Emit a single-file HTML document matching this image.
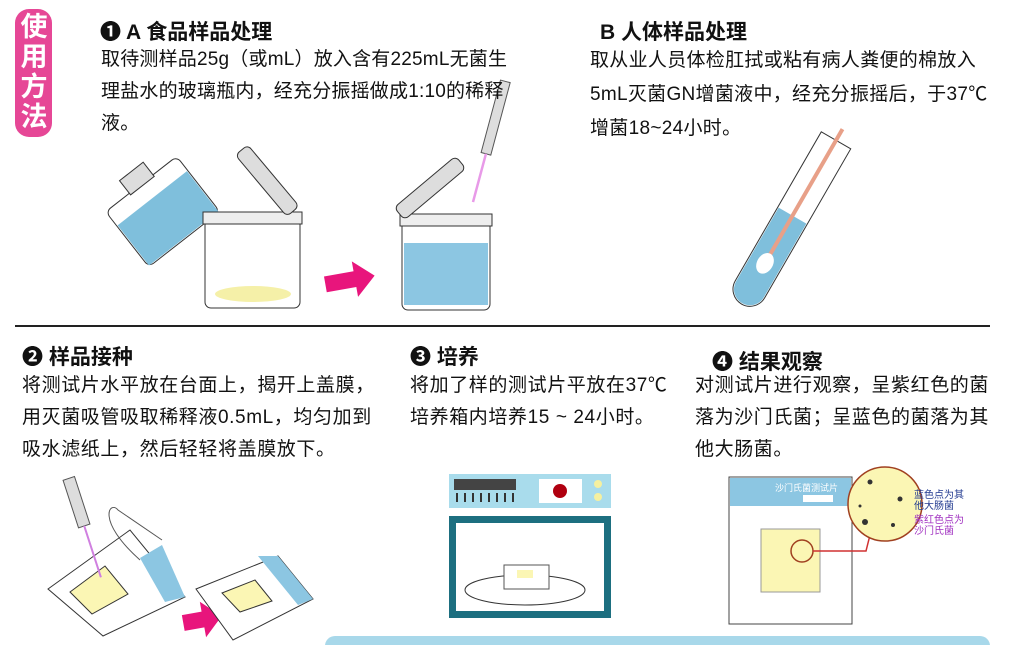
<!DOCTYPE html>
<html><head><meta charset="utf-8"><style>
body{margin:0;width:1020px;height:645px;overflow:hidden;background:#fff;position:relative;font-family:"Liberation Sans","Noto Sans CJK SC",sans-serif;color:#111}
.t{position:absolute;white-space:nowrap;font-size:19px;line-height:32px;letter-spacing:0.6px}
.h{position:absolute;white-space:nowrap;font-size:21px;font-weight:bold}
svg{position:absolute;left:0;top:0}
</style></head><body>
<svg width="1020" height="645" viewBox="0 0 1020 645">
<rect x="15" y="9" width="37" height="128" rx="14" fill="#e64796"/>
<line x1="15" y1="326" x2="990" y2="326" stroke="#222" stroke-width="2"/>
<rect x="325" y="636" width="665" height="20" rx="10" fill="#a8d8ea"/>
<g transform="rotate(-38 155 205)">
<rect x="112" y="180" width="90" height="70" rx="6" fill="#fff" stroke="#333"/>
<rect x="113" y="198" width="88" height="51" fill="#7fbfdc"/>
<rect x="142" y="164" width="30" height="18" fill="#ddd" stroke="#333"/>
</g>
<rect x="205" y="218" width="95" height="90" rx="6" fill="#fff" stroke="#333"/>
<rect x="203" y="212" width="99" height="12" fill="#eee" stroke="#333"/>
<ellipse cx="253" cy="294" rx="38" ry="8" fill="#f5f0a8"/>
<g transform="rotate(50 268 180)"><rect x="228" y="173" width="80" height="16" rx="5" fill="#ddd" stroke="#333"/></g>
<polygon points="325,272 355,272 355,262 375,280 355,298 355,288 325,288" fill="#e8157c" transform="rotate(-10 350 280)"/>
<polygon points="183,612 203,612 203,602 222,620 203,638 203,628 183,628" fill="#e8157c" transform="rotate(-10 200 620)"/>
<rect x="402" y="220" width="88" height="90" rx="6" fill="#fff" stroke="#333"/>
<rect x="400" y="214" width="92" height="12" fill="#eee" stroke="#333"/>
<rect x="404" y="243" width="84" height="62" fill="#8cc6e2"/>
<g transform="rotate(-40 430 188)"><rect x="390" y="180" width="80" height="16" rx="5" fill="#ddd" stroke="#333"/></g>
<g transform="rotate(15 495 120)"><rect x="490" y="80" width="10" height="75" fill="#ddd" stroke="#555"/><line x1="495" y1="155" x2="495" y2="205" stroke="#e89ae8" stroke-width="2.5"/></g>
<g transform="rotate(30 790 220)">
<path d="M773,128 L807,128 L807,300 A17,17 0 0 1 773,300 Z" fill="#fff" stroke="#333"/>
<path d="M774,215 L806,215 L806,300 A16,16 0 0 1 774,300 Z" fill="#7fbfdc"/>
<line x1="790" y1="115" x2="790" y2="265" stroke="#e8a088" stroke-width="4"/>
<ellipse cx="790" cy="270" rx="8" ry="11" fill="#fff"/>
</g>
<polygon points="48,589 130,530 185,597 103,636" fill="#fff" stroke="#333"/>
<polygon points="70,592 105,566 128,594 92,614" fill="#fbf6b4" stroke="#333"/>
<polygon points="140,558 162,545 185,597 165,602" fill="#8cc6e2"/>
<path d="M140,560 C95,520 110,500 118,510 L162,540" fill="none" stroke="#555"/>
<g transform="rotate(-18 80 500)"><rect x="70" y="476" width="12" height="50" fill="#ddd" stroke="#555"/><line x1="76" y1="526" x2="76" y2="580" stroke="#d080e0" stroke-width="2"/></g>
<polygon points="196,589 278,556 313,599 233,640" fill="#fff" stroke="#333"/>
<polygon points="222,593 255,580 272,601 240,612" fill="#fbf6b4" stroke="#333"/>
<polygon points="258,556 278,556 313,599 298,605" fill="#8cc6e2"/>
<rect x="449" y="474" width="162" height="34" fill="#a9dcec"/>
<rect x="454" y="479" width="62" height="11" fill="#444"/>
<g stroke="#333" stroke-width="2"><line x1="457" y1="493" x2="457" y2="502"/><line x1="465" y1="493" x2="465" y2="502"/><line x1="473" y1="493" x2="473" y2="502"/><line x1="481" y1="493" x2="481" y2="502"/><line x1="489" y1="493" x2="489" y2="502"/><line x1="497" y1="493" x2="497" y2="502"/><line x1="505" y1="493" x2="505" y2="502"/><line x1="513" y1="493" x2="513" y2="502"/></g>
<rect x="539" y="479" width="43" height="24" fill="#fff"/>
<circle cx="560" cy="491" r="7" fill="#b00010"/>
<circle cx="598" cy="484" r="4" fill="#f5f0a0"/><circle cx="598" cy="497" r="4" fill="#f5f0a0"/>
<rect x="449" y="516" width="162" height="102" fill="#1d6f80"/>
<rect x="456" y="523" width="148" height="88" fill="#fff"/>
<ellipse cx="525" cy="590" rx="60" ry="15" fill="#fff" stroke="#333"/>
<rect x="504" y="565" width="45" height="24" fill="#fff" stroke="#555"/>
<rect x="517" y="570" width="16" height="8" fill="#fbf6b4"/>
<rect x="729" y="477" width="123" height="147" fill="#fff" stroke="#444"/>
<rect x="730" y="478" width="121" height="28" fill="#8cc6e2"/>
<text x="775" y="491" font-size="9" fill="#fff">沙门氏菌测试片</text>
<rect x="803" y="495" width="30" height="7" fill="#fff"/>
<rect x="761" y="529" width="59" height="63" fill="#fbf6b4" stroke="#999"/>
<circle cx="802" cy="551" r="11" fill="none" stroke="#a04020" stroke-width="1.5"/>
<polyline points="813,551 866,551 870,535" fill="none" stroke="#d03030" stroke-width="1.5"/>
<circle cx="885" cy="504" r="37" fill="#fbf6b4" stroke="#a04020" stroke-width="1.5"/>
<circle cx="870" cy="482" r="2.5" fill="#333"/><circle cx="900" cy="499" r="2.5" fill="#333"/><circle cx="865" cy="522" r="3" fill="#333"/><circle cx="893" cy="525" r="2" fill="#333"/><circle cx="860" cy="506" r="1.5" fill="#333"/>
</svg>
<div style="position:absolute;left:18px;top:12px;width:32px;color:#fff;font-size:27px;font-weight:bold;line-height:30px;text-align:center">使<br>用<br>方<br>法</div>
<div class="h" style="left:100px;top:16px">❶ A 食品样品处理</div>
<div class="t" style="left:101px;top:44px;letter-spacing:0.2px">取待测样品25g（或mL）放入含有225mL无菌生<br>理盐水的玻璃瓶内，经充分振摇做成1:10的稀释<br>液。</div>
<div class="h" style="left:600px;top:16px">B 人体样品处理</div>
<div class="t" style="left:590px;top:44px;line-height:34px;letter-spacing:0.3px">取从业人员体检肛拭或粘有病人粪便的棉放入<br>5mL灭菌GN增菌液中，经充分振摇后，于37℃<br>增菌18~24小时。</div>
<div class="h" style="left:22px;top:341px">❷ 样品接种</div>
<div class="t" style="left:22px;top:370px">将测试片水平放在台面上，揭开上盖膜，<br>用灭菌吸管吸取稀释液0.5mL，均匀加到<br>吸水滤纸上，然后轻轻将盖膜放下。</div>
<div class="h" style="left:410px;top:341px">❸ 培养</div>
<div class="t" style="left:410px;top:370px">将加了样的测试片平放在37℃<br>培养箱内培养15 ~ 24小时。</div>
<div class="h" style="left:712px;top:346px">❹ 结果观察</div>
<div class="t" style="left:695px;top:370px">对测试片进行观察，呈紫红色的菌<br>落为沙门氏菌；呈蓝色的菌落为其<br>他大肠菌。</div>
<div style="position:absolute;left:914px;top:490px;font-size:10px;line-height:11px;color:#223a90">蓝色点为其<br>他大肠菌</div>
<div style="position:absolute;left:914px;top:515px;font-size:10px;line-height:11px;color:#a030c0">紫红色点为<br>沙门氏菌</div>
</body></html>
